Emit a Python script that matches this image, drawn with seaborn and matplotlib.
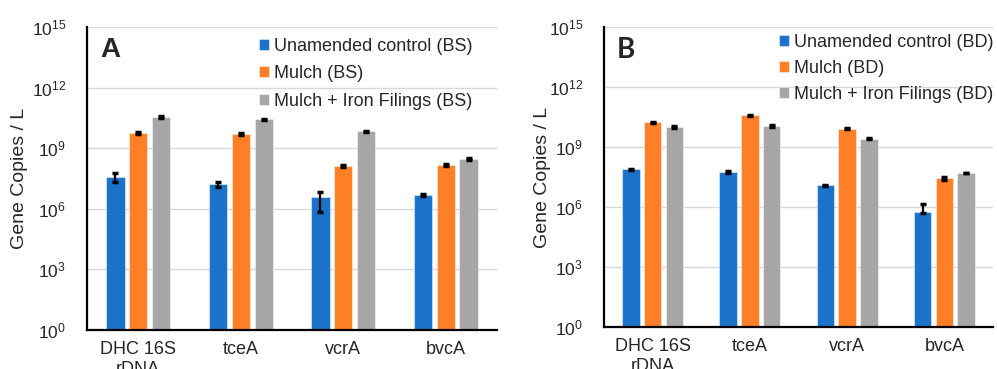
import numpy as np
import pandas as pd
import matplotlib
matplotlib.use("Agg")
import matplotlib.pyplot as plt
from matplotlib.ticker import FixedLocator, LogFormatterSciNotation, NullLocator
import seaborn as sns

# ---------------- data ----------------
genes = ["DHC 16S\nrDNA", "tceA", "vcrA", "bvcA"]

labels_A = ["Unamended control (BS)", "Mulch (BS)", "Mulch + Iron Filings (BS)"]
ctrl_A = [3.9e7, 1.6e7, 3.7e6, 4.8e6]
mulch_A = [5.5e9, 5.2e9, 1.3e8, 1.5e8]
iron_A = [3.6e10, 2.7e10, 6.8e9, 2.8e8]
ctrl_A_err = [1.7e7, 0.45e7, 3.0e6, 0.4e6]
mulch_A_err = [0.5e9, 0.6e9, 0.15e8, 0.2e8]
iron_A_err = [0.3e10, 0.2e10, 0.5e9, 0.3e8]

labels_B = ["Unamended control (BD)", "Mulch (BD)", "Mulch + Iron Filings (BD)"]
ctrl_B = [7.6e7, 5.6e7, 1.2e7, 5.6e5]
mulch_B = [1.7e10, 3.8e10, 8.3e9, 2.7e7]
iron_B = [1.0e10, 1.1e10, 2.6e9, 5.0e7]
ctrl_B_err_lo = [0.6e7, 0.8e7, 0.1e7, 0.5e5]
ctrl_B_err_hi = [0.6e7, 0.8e7, 0.1e7, 9.0e5]
mulch_B_err = [0.15e10, 0.3e10, 0.7e9, 0.4e7]
iron_B_err = [0.1e10, 0.1e10, 0.2e9, 0.2e7]

yticks = [1e0, 1e3, 1e6, 1e9, 1e12, 1e15]

colors = ["#1A72C9", "#FF7F27", "#A6A6A6"]

# ---------------- style ----------------
sns.set_style("white")
plt.rcParams["font.family"] = ["Liberation Sans", "DejaVu Sans"]
plt.rcParams["mathtext.fontset"] = "custom"
plt.rcParams["mathtext.rm"] = "Liberation Sans"

fig = plt.figure(figsize=(9.97, 3.69), dpi=100)
axA = fig.add_axes([0.0873, 0.1057, 0.4112, 0.8211])
axB = fig.add_axes([0.6058, 0.1138, 0.3902, 0.8130])


def panel(ax, labels, series, errs_lo, errs_hi, letter, letter_font,
          leg_x, leg_y, leg_sp, ylab_x):
    rows = []
    for lab, vals in zip(labels, series):
        for g, v in zip(genes, vals):
            rows.append({"gene": g, "treat": lab, "value": v})
    df = pd.DataFrame(rows)
    sns.barplot(data=df, x="gene", y="value", hue="treat", order=genes,
                hue_order=labels, palette=colors, saturation=1,
                errorbar=None, width=0.67, gap=0.2,
                edgecolor=(1, 1, 1, 0.45), linewidth=0.8, ax=ax)
    ax.set_yscale("log", nonpositive="clip")
    # error bars placed on bars drawn by seaborn
    patches = [p for p in ax.patches if p.get_height() > 0]
    patches = sorted(patches, key=lambda p: p.get_x())
    lo = [e[i] for i in range(len(genes)) for e in errs_lo]
    hi = [e[i] for i in range(len(genes)) for e in errs_hi]
    xs = [p.get_x() + p.get_width() / 2 for p in patches]
    hs = [p.get_y() + p.get_height() for p in patches]
    ax.errorbar(xs, hs, yerr=[lo, hi], fmt="none", ecolor="black",
                elinewidth=1.6, capsize=2.5, capthick=2.5, zorder=5)

    ax.set_ylim(1, 1e15)
    ax.set_xlim(-0.5, len(genes) - 0.5)
    ax.yaxis.set_major_locator(FixedLocator(yticks))
    ax.yaxis.set_major_formatter(LogFormatterSciNotation())
    ax.yaxis.set_minor_locator(NullLocator())
    ax.grid(axis="y", color="#D9D9D9", linewidth=1.0)
    ax.set_axisbelow(True)
    for s in ["top", "right"]:
        ax.spines[s].set_visible(False)
    for s in ["left", "bottom"]:
        ax.spines[s].set_color("black")
        ax.spines[s].set_linewidth(1.6)
    ax.tick_params(axis="y", which="major", direction="out", length=4,
                   width=1.2, color="black", labelsize=12.5, pad=11)
    ax.tick_params(axis="x", which="major", length=0, labelsize=13, pad=8)
    ax.set_xticks(np.arange(-0.5, len(genes)), minor=True)
    ax.tick_params(axis="x", which="minor", direction="out", length=5,
                   width=1.6, color="black")
    ax.set_xlabel("")
    ax.set_ylabel("Gene Copies / L", fontsize=14)
    ax.yaxis.set_label_coords(ylab_x, 0.5)

    handles, labs = ax.get_legend_handles_labels()
    ax.legend(handles, labs, loc="upper left", bbox_to_anchor=(leg_x, leg_y),
              frameon=False, fontsize=13, handlelength=0.55,
              handleheight=0.55, handletextpad=0.3, labelspacing=leg_sp,
              borderpad=0.2, borderaxespad=0.0)
    ax.text(0.032, 0.925, letter, transform=ax.transAxes, fontsize=20,
            fontweight="bold", va="center", ha="left", family=letter_font)


panel(axA, labels_A, [ctrl_A, mulch_A, iron_A],
      [ctrl_A_err, mulch_A_err, iron_A_err],
      [ctrl_A_err, mulch_A_err, iron_A_err], "A",
      ["Liberation Sans", "DejaVu Sans"], 0.41, 0.977, 0.58, -0.143)
panel(axB, labels_B, [ctrl_B, mulch_B, iron_B],
      [ctrl_B_err_lo, mulch_B_err, iron_B_err],
      [ctrl_B_err_hi, mulch_B_err, iron_B_err], "B",
      ["Lato", "DejaVu Sans"], 0.44, 0.99, 0.5, -0.136)

fig.savefig("out.png", dpi=100)
